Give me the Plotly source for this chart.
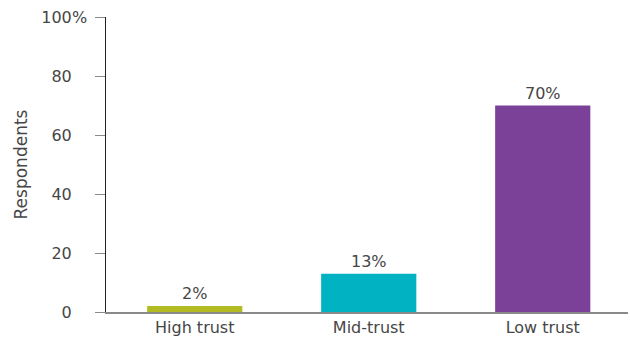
import plotly.graph_objects as go

# Share of respondents by trust level
categories = ["High trust", "Mid-trust", "Low trust"]
values = [2, 13, 70]
bar_colors = ["#B2BC22", "#00B2C2", "#7B4097"]
y_tick_vals = [0, 20, 40, 60, 80, 100]
y_tick_text = ["0", "20", "40", "60", "80", "100"]

font_family = "'DejaVu Sans', sans-serif"
text_color = "#464646"

fig = go.Figure(
    go.Bar(
        x=categories,
        y=values,
        marker=dict(color=bar_colors, line=dict(width=0)),
        text=[f"{v}%" for v in values],
        textposition="outside",
        textfont=dict(family=font_family, size=16, color=text_color),
        cliponaxis=False,
    )
)

fig.update_layout(
    width=630,
    height=341,
    margin=dict(l=106, r=2, t=17, b=29),
    paper_bgcolor="white",
    plot_bgcolor="white",
    bargap=0.453,
    showlegend=False,
    font=dict(family=font_family, size=16, color=text_color),
    xaxis=dict(
        range=[-0.51, 2.49],
        showline=True,
        linecolor="#8a8a8a",
        linewidth=1.5,
        ticks="",
        showgrid=False,
        zeroline=False,
        tickfont=dict(size=16, color=text_color),
    ),
    yaxis=dict(
        range=[0, 100],
        tickvals=y_tick_vals,
        ticktext=y_tick_text,
        ticks="outside",
        ticklen=10,
        tickcolor="#8a8a8a",
        tickwidth=1,
        ticklabelstandoff=20,
        showline=True,
        linecolor="#222222",
        linewidth=1,
        showgrid=False,
        zeroline=False,
        tickfont=dict(size=16, color=text_color),
        title=dict(text="Respondents", font=dict(size=17, color=text_color), standoff=9),
    ),
    annotations=[
        # percent sign hanging after the top tick value
        dict(
            text="%",
            xref="paper",
            yref="y",
            x=0,
            y=100,
            xanchor="left",
            yanchor="middle",
            xshift=-36,
            showarrow=False,
            font=dict(family=font_family, size=16, color=text_color),
        )
    ],
)

fig.write_html("out.html")
